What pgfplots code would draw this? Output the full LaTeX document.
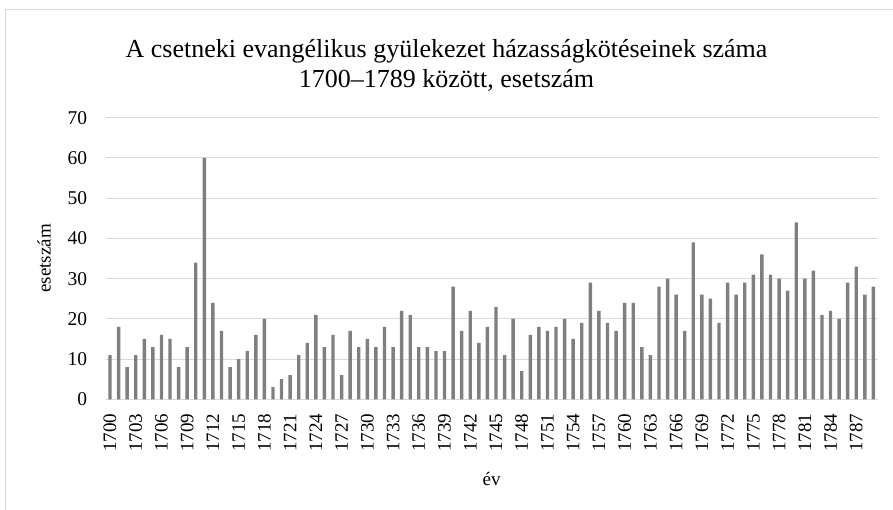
\documentclass[border=0pt]{standalone}
\usepackage{pgfplots}
\pgfplotsset{compat=1.18}
\usepackage{pgfplotstable}
\usepackage{fontspec}
\setmainfont{Liberation Serif}
\definecolor{bargray}{HTML}{7F7F7F}
\definecolor{gridgray}{HTML}{D9D9D9}
\pgfplotstableread{
ev n
1700 11
1701 18
1702 8
1703 11
1704 15
1705 13
1706 16
1707 15
1708 8
1709 13
1710 34
1711 60
1712 24
1713 17
1714 8
1715 10
1716 12
1717 16
1718 20
1719 3
1720 5
1721 6
1722 11
1723 14
1724 21
1725 13
1726 16
1727 6
1728 17
1729 13
1730 15
1731 13
1732 18
1733 13
1734 22
1735 21
1736 13
1737 13
1738 12
1739 12
1740 28
1741 17
1742 22
1743 14
1744 18
1745 23
1746 11
1747 20
1748 7
1749 16
1750 18
1751 17
1752 18
1753 20
1754 15
1755 19
1756 29
1757 22
1758 19
1759 17
1760 24
1761 24
1762 13
1763 11
1764 28
1765 30
1766 26
1767 17
1768 39
1769 26
1770 25
1771 19
1772 29
1773 26
1774 29
1775 31
1776 36
1777 31
1778 30
1779 27
1780 44
1781 30
1782 32
1783 21
1784 22
1785 20
1786 29
1787 33
1788 26
1789 28
}\datatable
\begin{document}
\begin{tikzpicture}
\useasboundingbox (0bp,0bp) rectangle (893bp,510bp);
\draw[gridgray, line width=1bp] (5bp,0bp) -- (5bp,500bp) -- (893bp,500bp);
\begin{axis}[
  at={(105.7bp,110.7bp)}, anchor=south west,
  scale only axis, width=772bp, height=281.6bp,
  xmin=1699.5, xmax=1789.5, ymin=0, ymax=70,
  ytick={0,10,...,70},
  xtick={1700,1703,...,1787},
  xticklabel style={rotate=90, anchor=east, font=\fontsize{19bp}{21bp}\selectfont},
  yticklabel style={font=\fontsize{19.5bp}{21bp}\selectfont},
  xticklabel shift=11bp,
  yticklabel shift=15bp,
  /pgf/number format/assume math mode=true,
  /pgf/number format/set thousands separator={},
  ymajorgrids, major grid style={gridgray, line width=1bp},
  axis line style={draw=none},
  major tick length=0pt,
  ybar, bar width=3.4bp, bar shift=0pt,
  xlabel={év}, ylabel={esetszám},
  label style={font=\fontsize{19bp}{21bp}\selectfont},
  xlabel style={yshift=-14bp},
  ylabel style={yshift=10bp},
  clip=false,
]
\draw[gridgray, line width=1bp] (axis cs:1699.5,0) -- (axis cs:1789.5,0);
\addplot[fill=bargray, draw=none] table[x=ev, y=n] {\datatable};
\end{axis}
\node[anchor=base, font=\fontsize{26bp}{30bp}\selectfont] at (446.5bp,452bp) {A csetneki evangélikus gyülekezet házasságkötéseinek száma};
\node[anchor=base, font=\fontsize{26bp}{30bp}\selectfont] at (446.5bp,422bp) {1700–1789 között, esetszám};
\end{tikzpicture}
\end{document}
